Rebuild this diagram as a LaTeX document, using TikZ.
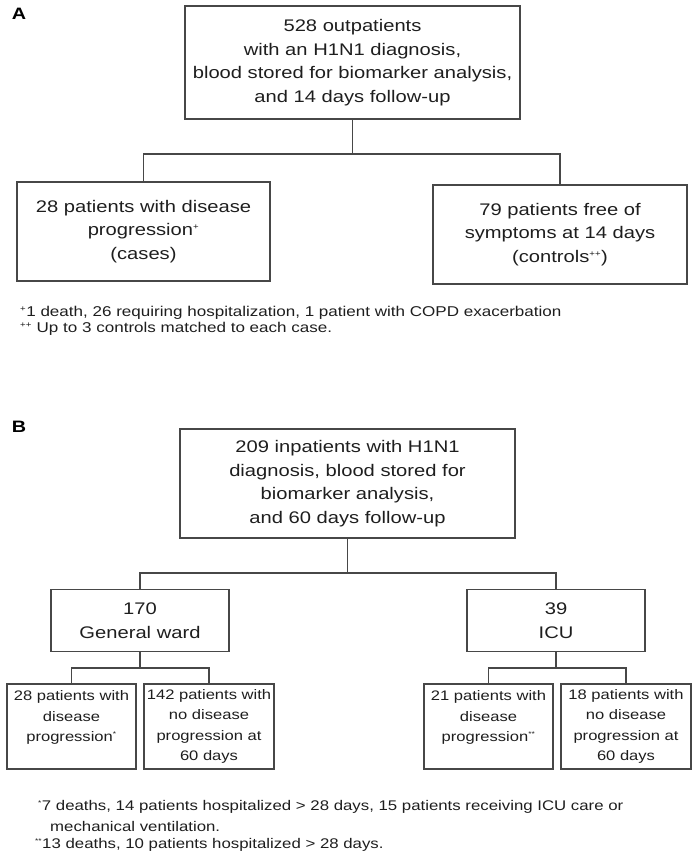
\documentclass[tikz,border=0pt]{standalone}
\usepackage{fontspec}
\setmainfont[FakeStretch=1.2]{Liberation Sans}
\definecolor{linecol}{HTML}{474747}
\definecolor{txtcol}{HTML}{1E1E1E}
\newcommand{\supmark}[1]{\textsuperscript{\fontsize{8}{8}\selectfont #1}}
\newcommand{\supstar}[1]{\textsuperscript{\fontsize{7}{7}\selectfont #1}}
\begin{document}
\begin{tikzpicture}[x=1pt,y=-1pt,
 box/.style={draw=linecol, line width=1.3pt, inner sep=0pt, align=center, text=txtcol},
 bigtxt/.style={font=\fontsize{16.8}{23.6}\selectfont},
 smalltxt/.style={font=\fontsize{13.8}{20.5}\selectfont},
 conn/.style={draw=linecol, line width=1.1pt},
 note/.style={anchor=west, inner sep=0pt, text=txtcol, font=\fontsize{14.2}{16}\selectfont},
 noteb/.style={note, font=\fontsize{14}{16}\selectfont},
 panel/.style={font=\fontsize{16.5}{16.5}\selectfont\bfseries, inner sep=0pt, text=black}]
\useasboundingbox (0,0) rectangle (698,861);

% ---------- Panel A ----------
\node[panel] (labA) at (19,14) {A};
\node[box,bigtxt,minimum width=335pt,minimum height=113pt] (topA) at (352.5,62.5)
  {\raisebox{-2pt}{528 outpatients}\\\raisebox{-2pt}{with an H1N1 diagnosis,}\\\raisebox{-2pt}{blood stored for biomarker analysis,}\\\raisebox{-2pt}{and 14 days follow-up}};
\node[box,bigtxt,minimum width=253pt,minimum height=99pt] (leftA) at (143.5,231.5)
  {28 patients with disease\\progression\supmark{+}\\(cases)};
\node[box,bigtxt,minimum width=254pt,minimum height=99pt] (rightA) at (560,234.5)
  {79 patients free of\\symptoms at 14 days\\(controls\supmark{++})};
\coordinate (jA) at (352.5,154);
\draw[conn] (topA.south) -- (jA);
\draw[conn] (jA) -| (leftA.north);
\draw[conn] (jA) -| (rightA.north);
\node[note] (fnA1) at (20,313) {\supmark{+}1 death, 26 requiring hospitalization, 1 patient with COPD exacerbation};
\node[note] (fnA2) at (20,329) {\supmark{++} Up to 3 controls matched to each case.};

% ---------- Panel B ----------
\node[panel] (labB) at (19,427) {B};
\node[box,bigtxt,minimum width=335pt,minimum height=109pt] (topB) at (347.5,483.5)
  {209 inpatients with H1N1\\diagnosis, blood stored for\\biomarker analysis,\\and 60 days follow-up};
\node[box,bigtxt,minimum width=178pt,minimum height=62pt] (ward) at (140,620.5)
  {170\\General ward};
\node[box,bigtxt,minimum width=178pt,minimum height=62pt] (icu) at (556,620.5)
  {39\\ICU};
\coordinate (jB) at (347.5,573);
\draw[conn] (topB.south) -- (jB);
\draw[conn] (jB) -| (ward.north);
\draw[conn] (jB) -| (icu.north);

\node[box,smalltxt,minimum width=129pt,minimum height=85pt] (s1) at (71.5,726.5)
  {28 patients with\\disease\\progression\supstar{*}\\\mbox{}};
\node[box,smalltxt,minimum width=130pt,minimum height=85pt] (s2) at (209,726.5)
  {142 patients with\\no disease\\progression at\\60 days};
\node[box,smalltxt,minimum width=129pt,minimum height=85pt] (s3) at (488.5,726.5)
  {21 patients with\\disease\\progression\supstar{**}\\\mbox{}};
\node[box,smalltxt,minimum width=130pt,minimum height=85pt] (s4) at (626,726.5)
  {18 patients with\\no disease\\progression at\\60 days};
\coordinate (jW) at (140,668);
\coordinate (jI) at (556,668);
\draw[conn] (ward.south) -- (jW);
\draw[conn] (jW) -| (s1.north);
\draw[conn] (jW) -| (s2.north);
\draw[conn] (icu.south) -- (jI);
\draw[conn] (jI) -| (s3.north);
\draw[conn] (jI) -| (s4.north);

\node[noteb] (fnB1) at (38,807) {\supstar{*}7 deaths, 14 patients hospitalized > 28 days, 15 patients receiving ICU care or};
\node[noteb] (fnB2) at (50,826) {mechanical ventilation.};
\node[noteb] (fnB3) at (35,845) {\supstar{**}13 deaths, 10 patients hospitalized > 28 days.};
\end{tikzpicture}
\end{document}
